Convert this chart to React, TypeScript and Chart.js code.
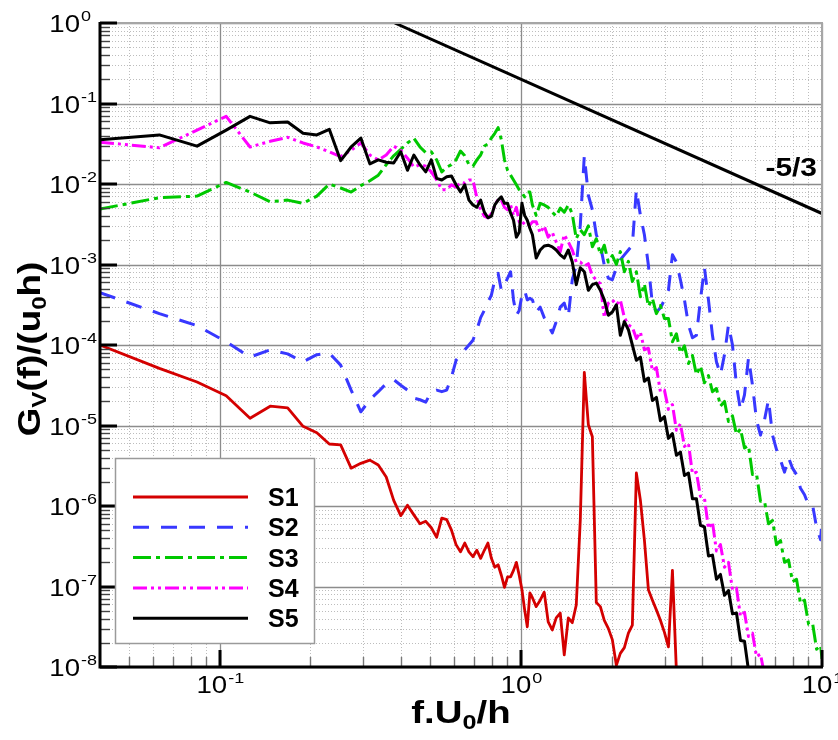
import React, { useEffect, useRef } from "react";
import { Chart, registerables } from "chart.js";

Chart.register(...registerables);

// Frequency grid f.U0/h shared by all series
const freq = [
  0.04, 0.063, 0.084, 0.105, 0.126, 0.147, 0.168, 0.189, 0.21, 0.231,
  0.252, 0.273, 0.294, 0.315, 0.336, 0.357, 0.378, 0.399, 0.42, 0.441,
  0.462, 0.483, 0.504, 0.525, 0.546, 0.567, 0.588, 0.609, 0.63, 0.651,
  0.672, 0.693, 0.714, 0.735, 0.756, 0.777, 0.798, 0.819, 0.84, 0.861,
  0.882, 0.903, 0.924, 0.945, 0.966, 0.987, 1.008, 1.029, 1.05, 1.071,
  1.092, 1.124, 1.159, 1.195, 1.232, 1.271, 1.31, 1.351, 1.393, 1.437,
  1.481, 1.527, 1.575, 1.624, 1.675, 1.727, 1.78, 1.836, 1.892, 1.951,
  2.012, 2.075, 2.139, 2.206, 2.275, 2.345, 2.418, 2.494, 2.571, 2.651,
  2.734, 2.818, 2.906, 2.997, 3.09, 3.186, 3.285, 3.387, 3.493, 3.601,
  3.713, 3.828, 3.947, 4.07, 4.197, 4.327, 4.462, 4.6, 4.744, 4.891,
  5.043, 5.2, 5.361, 5.528, 5.7, 5.877, 6.06, 6.248, 6.442, 6.642,
  6.849, 7.062, 7.281, 7.508, 7.741, 7.981, 8.23, 8.485, 8.749, 9.026,
  9.307, 9.596, 9.894, 10.0,
];

// log10 of Gv(f)/(u0 h), one value per freq entry
const s1Log10 = [
  -4.0, -4.29, -4.46, -4.63, -4.91, -4.76, -4.78, -5.01, -5.09, -5.23,
  -5.24, -5.53, -5.47, -5.43, -5.49, -5.64, -5.93, -6.12, -5.99, -6.11,
  -6.22, -6.19, -6.27, -6.39, -6.15, -6.17, -6.3, -6.48, -6.57, -6.46,
  -6.57, -6.63, -6.55, -6.65, -6.55, -6.46, -6.65, -6.76, -6.73, -6.86,
  -7.01, -6.88, -6.88, -6.8, -6.7, -6.86, -7.04, -7.29, -7.5, -7.08,
  -7.14, -7.25, -7.17, -7.07, -7.44, -7.54, -7.39, -7.33, -7.85, -7.39,
  -7.45, -7.23, -6.17, -4.34, -4.99, -5.14, -7.2, -7.25, -7.42, -7.52,
  -7.66, -7.98, -7.83, -7.76, -7.58, -7.48, -5.59, -5.93, -6.42, -7.04,
  -7.17, -7.29, -7.42, -7.57, -7.75, -6.8, -8.06,
];

const s2Log10 = [
  -3.35, -3.61, -3.76, -3.96, -4.15, -4.06, -4.11, -4.21, -4.12, -4.1,
  -4.25, -4.56, -4.83, -4.68, -4.58, -4.48, -4.43, -4.5, -4.56, -4.66,
  -4.68, -4.71, -4.58, -4.56, -4.58, -4.56, -4.4, -4.19, -4.12, -4.06,
  -4.0, -3.94, -3.81, -3.66, -3.57, -3.47, -3.38, -3.19, -3.11, -3.32,
  -3.25, -3.17, -3.09, -3.44, -3.63, -3.57, -3.38, -3.32, -3.44, -3.42,
  -3.44, -3.59, -3.53, -3.66, -3.75, -3.85, -3.71, -3.53, -3.48, -3.65,
  -3.19, -3.01, -2.51, -1.65, -2.14, -2.32, -2.63, -2.76, -3.01, -3.17,
  -3.19, -3.04, -2.94, -2.88, -2.82, -2.76, -2.07, -2.39, -2.63, -3.01,
  -3.5, -3.59, -3.54, -3.44, -3.32, -2.88, -2.97, -3.19, -3.44, -3.75,
  -3.91, -3.88, -3.44, -3.04, -3.44, -3.88, -4.21, -4.37, -4.12, -3.75,
  -4.0, -4.5, -4.81, -4.62, -4.16, -4.5, -4.93, -5.12, -4.93, -4.68,
  -5.12, -5.3, -5.43, -5.58, -5.4, -5.53, -5.61, -5.78, -5.86, -5.99,
  -5.99, -6.27, -6.42, -6.17,
];

const s3Log10 = [
  -2.31, -2.17, -2.15, -1.98, -2.1, -2.22, -2.2, -2.24, -2.15, -2.0,
  -2.05, -2.1, -2.02, -1.96, -1.89, -1.76, -1.65, -1.57, -1.49, -1.43,
  -1.54, -1.61, -1.6, -1.7, -1.85, -1.79, -1.76, -1.7, -1.59, -1.65,
  -1.76, -1.78, -1.7, -1.64, -1.53, -1.5, -1.43, -1.37, -1.3, -1.45,
  -1.7, -1.83, -1.89, -1.95, -2.01, -2.07, -2.11, -2.16, -2.1, -2.1,
  -2.26, -2.39, -2.24, -2.26, -2.29, -2.35, -2.4, -2.3, -2.35, -2.26,
  -2.37, -2.68, -2.57, -2.63, -2.52, -2.78, -2.68, -2.88, -2.76, -2.97,
  -2.89, -3.0, -2.84, -3.09, -2.96, -3.21, -3.09, -3.4, -3.24, -3.52,
  -3.42, -3.61, -3.51, -3.67, -3.67, -3.96, -3.86, -4.1, -4.01, -4.23,
  -4.13, -4.37, -4.26, -4.47, -4.38, -4.58, -4.54, -4.76, -4.7, -4.95,
  -4.88, -5.11, -5.04, -5.28, -5.25, -5.61, -5.6, -5.94, -5.94, -6.22,
  -6.18, -6.48, -6.43, -6.7, -6.67, -6.94, -6.91, -7.21, -7.17, -7.47,
  -7.46, -7.78, -7.73, -7.9,
];

const s4Log10 = [
  -1.48, -1.55, -1.33, -1.16, -1.54, -1.47, -1.42, -1.49, -1.54, -1.6,
  -1.66, -1.58, -1.49, -1.64, -1.7, -1.64, -1.53, -1.58, -1.68, -1.79,
  -1.76, -1.78, -1.85, -1.95, -2.07, -2.07, -2.01, -2.04, -1.98, -1.99,
  -1.95, -1.95, -2.17, -2.32, -2.4, -2.42, -2.37, -2.27, -2.19, -2.2,
  -2.29, -2.32, -2.26, -2.39, -2.29, -2.47, -2.51, -2.47, -2.5, -2.51,
  -2.47, -2.47, -2.61, -2.52, -2.66, -2.6, -2.72, -2.84, -2.63, -2.72,
  -2.82, -2.97, -2.97, -3.02, -2.99, -3.14, -3.19, -3.24, -3.66, -3.48,
  -3.44, -3.5, -3.44, -3.66, -3.75, -3.78, -3.92, -3.84, -4.06, -4.04,
  -4.32, -4.28, -4.58, -4.56, -4.8, -4.74, -5.06, -4.98, -5.26, -5.22,
  -5.6, -5.58, -5.88, -5.9, -6.28, -6.2, -6.56, -6.48, -6.76, -6.7,
  -7.04, -7.02, -7.37, -7.32, -7.62, -7.58, -7.87, -7.84, -8.1,
];

const s5Log10 = [
  -1.45, -1.39, -1.53, -1.33, -1.16, -1.24, -1.23, -1.37, -1.39, -1.32,
  -1.71, -1.54, -1.43, -1.75, -1.7, -1.73, -1.74, -1.6, -1.83, -1.64,
  -1.76, -1.85, -1.7, -1.93, -1.95, -1.91, -1.9, -2.01, -2.1, -2.01,
  -2.2, -2.26, -2.29, -2.2, -2.35, -2.42, -2.4, -2.26, -2.2, -2.16,
  -2.24, -2.24, -2.36, -2.45, -2.66, -2.6, -2.24, -2.39, -2.45, -2.55,
  -2.63, -2.92, -2.82, -2.77, -2.76, -2.78, -2.82, -2.88, -2.92, -2.82,
  -2.97, -3.25, -3.04, -3.09, -3.32, -3.25, -3.23, -3.32, -3.44, -3.63,
  -3.59, -3.5, -3.88, -3.71, -3.81, -4.0, -4.19, -4.15, -4.45, -4.41,
  -4.69, -4.65, -4.94, -4.89, -5.16, -5.1, -5.37, -5.33, -5.62, -5.59,
  -5.91, -5.91, -6.24, -6.26, -6.62, -6.61, -6.91, -6.85, -7.11, -7.05,
  -7.34, -7.33, -7.67, -7.68, -8.04, -8.1,
];

// -5/3 reference slope line end points
const slopeX = [0.381, 10];
const slopeY = [1.0, 0.0043];

const seriesNames = ["S1", "S2", "S3", "S4", "S5"];
const seriesColors = ["#d40000", "#3838ff", "#00c800", "#ff00ff", "#000000"];
const seriesDashes = [[], [16, 12], [18, 5, 4, 5], [14, 4, 3, 4, 3, 4], []];
const seriesWidths = [2.8, 3, 3, 3, 3];

const yDecadeExps = [0, -1, -2, -3, -4, -5, -6, -7, -8];
const xDecadeExps = [-1, 0, 1];
const minorMultipliers = [2, 3, 4, 5, 6, 7, 8, 9];

const FONT = '"Liberation Sans", Arial, Helvetica, sans-serif';

function put(
  ctx: CanvasRenderingContext2D,
  s: string,
  x: number,
  y: number,
  font: string,
  align: CanvasTextAlign,
  sx: number
) {
  ctx.save();
  ctx.translate(x, y);
  ctx.scale(sx, 1);
  ctx.font = font;
  ctx.textAlign = align;
  ctx.textBaseline = "alphabetic";
  ctx.fillStyle = "#000";
  ctx.fillText(s, 0, 0);
  ctx.restore();
}

function widthOf(ctx: CanvasRenderingContext2D, s: string, font: string) {
  ctx.save();
  ctx.font = font;
  const w = ctx.measureText(s).width;
  ctx.restore();
  return w;
}

function drawRich(
  ctx: CanvasRenderingContext2D,
  parts: { t: string; sub: boolean }[],
  cx: number,
  base: number,
  big: string,
  small: string,
  sx: number,
  subDrop: number
) {
  let total = 0;
  for (const p of parts) total += widthOf(ctx, p.t, p.sub ? small : big) * sx;
  let x = cx - total / 2;
  for (const p of parts) {
    const f = p.sub ? small : big;
    put(ctx, p.t, x, base + (p.sub ? subDrop : 0), f, "left", sx);
    x += widthOf(ctx, p.t, f) * sx;
  }
}

const decorPlugin = {
  id: "decor",
  beforeDatasetsDraw(chart: any) {
    const { ctx, chartArea: a, scales } = chart;
    const xs = scales.x;
    const ys = scales.y;
    ctx.save();
    // minor grid
    ctx.strokeStyle = "#bdbdbd";
    ctx.lineWidth = 1;
    ctx.setLineDash([1, 2]);
    for (const e of [-2, -1, 0]) {
      for (const m of minorMultipliers) {
        const v = m * Math.pow(10, e);
        if (v <= 0.04 || v >= 10) continue;
        const px = Math.round(xs.getPixelForValue(v)) + 0.5;
        ctx.beginPath();
        ctx.moveTo(px, a.top);
        ctx.lineTo(px, a.bottom);
        ctx.stroke();
      }
    }
    for (const e of yDecadeExps) {
      if (e === 0) continue;
      for (const m of minorMultipliers) {
        const v = m * Math.pow(10, e);
        const py = Math.round(ys.getPixelForValue(v)) + 0.5;
        ctx.beginPath();
        ctx.moveTo(a.left, py);
        ctx.lineTo(a.right, py);
        ctx.stroke();
      }
    }
    // major grid
    ctx.setLineDash([]);
    ctx.strokeStyle = "#8c8c8c";
    ctx.lineWidth = 1.3;
    for (const e of xDecadeExps) {
      const px = Math.round(xs.getPixelForValue(Math.pow(10, e))) + 0.5;
      ctx.beginPath();
      ctx.moveTo(px, a.top);
      ctx.lineTo(px, a.bottom);
      ctx.stroke();
    }
    for (const e of yDecadeExps) {
      const py = Math.round(ys.getPixelForValue(Math.pow(10, e))) + 0.5;
      ctx.beginPath();
      ctx.moveTo(a.left, py);
      ctx.lineTo(a.right, py);
      ctx.stroke();
    }
    ctx.restore();
  },
  afterDatasetsDraw(chart: any) {
    const { ctx, chartArea: a, scales } = chart;
    const xs = scales.x;
    const ys = scales.y;
    ctx.save();
    // top & right frame
    ctx.strokeStyle = "#a6a6a6";
    ctx.lineWidth = 2;
    ctx.beginPath();
    ctx.moveTo(a.left, a.top);
    ctx.lineTo(a.right, a.top);
    ctx.lineTo(a.right, a.bottom);
    ctx.stroke();
    // minor ticks
    ctx.strokeStyle = "#444";
    ctx.lineWidth = 1.4;
    for (const e of yDecadeExps) {
      if (e === 0) continue;
      for (const m of minorMultipliers) {
        const py = Math.round(ys.getPixelForValue(m * Math.pow(10, e))) + 0.5;
        ctx.beginPath();
        ctx.moveTo(a.left, py);
        ctx.lineTo(a.left + 10, py);
        ctx.stroke();
      }
    }
    ctx.strokeStyle = "#777";
    for (const e of [-2, -1, 0]) {
      for (const m of minorMultipliers) {
        const v = m * Math.pow(10, e);
        if (v <= 0.04 || v >= 10) continue;
        const px = Math.round(xs.getPixelForValue(v)) + 0.5;
        ctx.beginPath();
        ctx.moveTo(px, a.bottom);
        ctx.lineTo(px, a.bottom - 10);
        ctx.stroke();
      }
    }
    // major ticks
    ctx.strokeStyle = "#000";
    ctx.lineWidth = 3;
    for (const e of yDecadeExps) {
      const py = Math.round(ys.getPixelForValue(Math.pow(10, e)));
      ctx.beginPath();
      ctx.moveTo(a.left, py);
      ctx.lineTo(a.left + 17, py);
      ctx.stroke();
    }
    for (const e of xDecadeExps) {
      const px = Math.round(xs.getPixelForValue(Math.pow(10, e)));
      ctx.beginPath();
      ctx.moveTo(px, a.bottom);
      ctx.lineTo(px, a.bottom - 17);
      ctx.stroke();
    }
    // left & bottom axis lines
    ctx.beginPath();
    ctx.moveTo(a.left, a.top - 1);
    ctx.lineTo(a.left, a.bottom);
    ctx.lineTo(a.right + 1, a.bottom);
    ctx.stroke();

    // y tick labels
    const tickBig = `23px ${FONT}`;
    const tickSmall = `15px ${FONT}`;
    for (const e of yDecadeExps) {
      const py = ys.getPixelForValue(Math.pow(10, e));
      put(ctx, "10", a.left - 20, py + 9, tickBig, "right", 1.2);
      put(ctx, String(e), a.left - 19, py - 2, tickSmall, "left", 1.2);
    }
    // x tick labels
    for (const e of xDecadeExps) {
      const px = xs.getPixelForValue(Math.pow(10, e));
      const w1 = widthOf(ctx, "10", tickBig) * 1.2;
      const w2 = widthOf(ctx, String(e), tickSmall) * 1.2;
      const start = px - (w1 + w2) / 2;
      put(ctx, "10", start, a.bottom + 26, tickBig, "left", 1.2);
      put(ctx, String(e), start + w1 + 1, a.bottom + 16, tickSmall, "left", 1.2);
    }

    // axis titles
    const tBig = `bold 32px ${FONT}`;
    const tSmall = `bold 21px ${FONT}`;
    drawRich(
      ctx,
      [
        { t: "f.U", sub: false },
        { t: "0", sub: true },
        { t: "/h", sub: false },
      ],
      (a.left + a.right) / 2,
      723,
      tBig,
      tSmall,
      1.2,
      6
    );
    ctx.save();
    ctx.translate(40, 349);
    ctx.rotate(-Math.PI / 2);
    drawRich(
      ctx,
      [
        { t: "G", sub: false },
        { t: "V", sub: true },
        { t: "(f)/(u", sub: false },
        { t: "0", sub: true },
        { t: "h)", sub: false },
      ],
      0,
      0,
      tBig,
      tSmall,
      1.15,
      6
    );
    ctx.restore();

    // -5/3 annotation
    put(ctx, "-5/3", 817, 176, `bold 26px ${FONT}`, "right", 1.15);

    // legend
    const lx = 115;
    const ly = 458;
    const lw = 200;
    const lh = 186;
    ctx.fillStyle = "#fff";
    ctx.fillRect(lx, ly, lw, lh);
    ctx.strokeStyle = "#9a9a9a";
    ctx.lineWidth = 1.5;
    ctx.strokeRect(lx + 0.5, ly + 0.5, lw - 1, lh - 1);
    const ds = chart.data.datasets;
    for (let i = 0; i < seriesNames.length; i++) {
      const d = ds[i];
      const ry = 497 + i * 30.3;
      ctx.save();
      ctx.strokeStyle = d.borderColor;
      ctx.lineWidth = d.borderWidth;
      ctx.setLineDash(d.borderDash || []);
      ctx.beginPath();
      ctx.moveTo(133, ry);
      ctx.lineTo(248, ry);
      ctx.stroke();
      ctx.restore();
      put(ctx, seriesNames[i], 268, ry + 9, `bold 25px ${FONT}`, "left", 1.0);
    }
    ctx.restore();
  },
};

export default function App() {
  const ref = useRef<HTMLCanvasElement | null>(null);
  useEffect(() => {
    if (!ref.current) return;
    const series = [s1Log10, s2Log10, s3Log10, s4Log10, s5Log10];
    const orders = [5, 4, 3, 2, 1];
    const datasets: any[] = series.map((vals, i) => ({
      label: seriesNames[i],
      data: vals.map((v, k) => ({ x: freq[k], y: Math.pow(10, v) })),
      borderColor: seriesColors[i],
      borderWidth: seriesWidths[i],
      borderDash: seriesDashes[i],
      borderJoinStyle: "round",
      pointRadius: 0,
      tension: 0,
      fill: false,
      order: orders[i],
    }));
    datasets.push({
      label: "-5/3",
      data: slopeX.map((x, k) => ({ x, y: slopeY[k] })),
      borderColor: "#000",
      borderWidth: 3,
      pointRadius: 0,
      fill: false,
      order: 0,
    });
    const chart = new Chart(ref.current, {
      type: "line",
      data: { datasets },
      options: {
        animation: false,
        responsive: false,
        maintainAspectRatio: false,
        events: [],
        layout: { padding: { left: 100, right: 16, top: 23, bottom: 73 } },
        plugins: { legend: { display: false }, tooltip: { enabled: false } },
        scales: {
          x: { type: "logarithmic", min: 0.04, max: 10, display: false },
          y: { type: "logarithmic", min: 1e-8, max: 1, display: false },
        },
      },
      plugins: [decorPlugin],
    } as any);
    return () => chart.destroy();
  }, []);
  return (
    <div
      style={{
        position: "absolute",
        left: 0,
        top: 0,
        width: 838,
        height: 740,
        background: "#fff",
      }}
    >
      <canvas ref={ref} width={838} height={740} style={{ display: "block" }} />
    </div>
  );
}
